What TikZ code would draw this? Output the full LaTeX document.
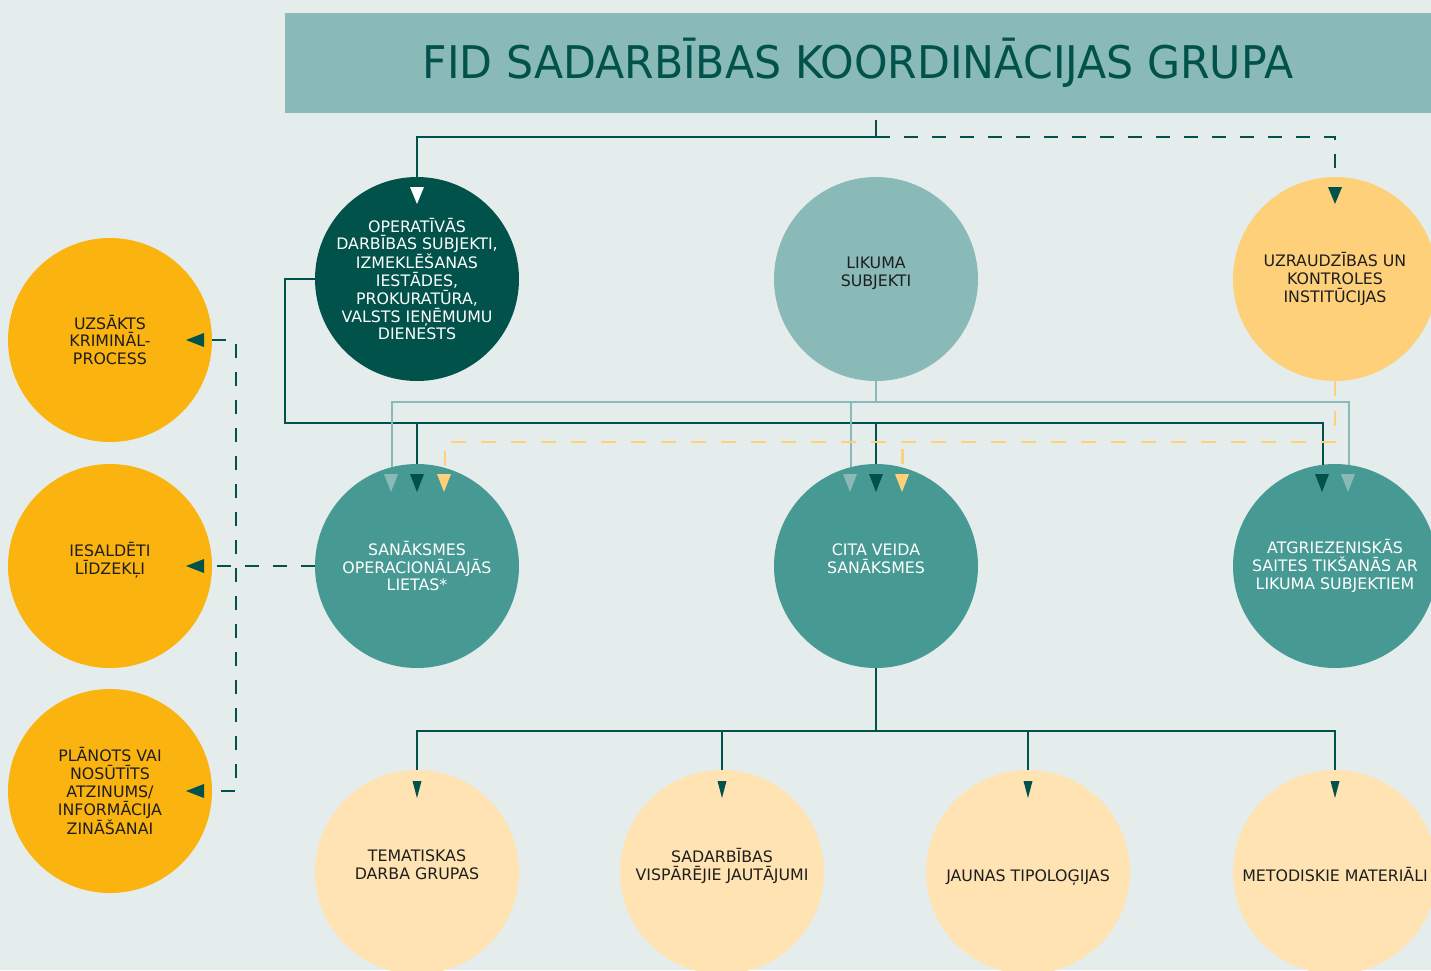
\documentclass[tikz,border=0pt]{standalone}
\usepackage{fontspec}
\setmainfont{DejaVu Sans}
\definecolor{fons}{HTML}{E4EDEC}
\definecolor{tumsa}{HTML}{00524A}
\definecolor{vidus}{HTML}{479A94}
\definecolor{gaisa}{HTML}{8ABAB7}
\definecolor{oranzs}{HTML}{FBB40F}
\definecolor{dzelt}{HTML}{FED07A}
\definecolor{bals}{HTML}{FFE3B3}
\definecolor{teksts}{HTML}{1E1E1E}

\begin{document}
\begin{tikzpicture}[x=1pt,y=-1pt,
	aplis/.style={circle,minimum size=204pt,inner sep=0pt,align=center,font=\fontsize{15.8}{17.8}\selectfont},
	divrind/.style={text depth=15pt},
	vienrind/.style={text height=19.5pt,text depth=0pt},
	liin/.style={line width=2pt},
	svitr/.style={line width=2pt,dash pattern=on 14pt off 14pt},
	dzsvitr/.style={line width=2.5pt,dzelt,dash pattern=on 15pt off 15pt}]

		%fons
		\clip (0,0) rectangle (1431,970);
		\fill[fons] (0,0) rectangle (1431,970);

		%virsraksts
		\node[fill=gaisa,minimum width=1146pt,minimum height=100pt,inner sep=0pt,text=tumsa,font=\fontsize{45}{50}\selectfont] (galva) at (858,63) {\scalebox{0.948}[1]{FID SADARBĪBAS KOORDINĀCIJAS GRUPA}};

		%augsejie apli
		\node[aplis,fill=tumsa,text=white] (oper) at (417,279) {OPERATĪVĀS\\DARBĪBAS SUBJEKTI,\\IZMEKLĒŠANAS\\IESTĀDES,\\PROKURATŪRA,\\VALSTS IEŅĒMUMU\\DIENESTS};
		\node[aplis,divrind,fill=gaisa,text=teksts] (likums) at (876,279) {LIKUMA\\SUBJEKTI};
		\node[aplis,fill=dzelt,text=teksts] (uzr) at (1335,279) {UZRAUDZĪBAS UN\\KONTROLES\\INSTITŪCIJAS};

		%kreisie apli
		\node[aplis,fill=oranzs,text=teksts] (krim) at (110,340) {UZSĀKTS\\KRIMINĀL-\\PROCESS};
		\node[aplis,divrind,fill=oranzs,text=teksts] (iesald) at (110,566) {IESALDĒTI\\LĪDZEKĻI};
		\node[aplis,fill=oranzs,text=teksts] (zin) at (110,791) {PLĀNOTS VAI\\NOSŪTĪTS\\ATZINUMS/\\INFORMĀCIJA\\ZINĀŠANAI};

		%sanaksmes
		\node[aplis,fill=vidus,text=white] (sanop) at (417,566) {SANĀKSMES\\OPERACIONĀLAJĀS\\LIETAS*};
		\node[aplis,divrind,fill=vidus,text=white] (cita) at (876,566) {CITA VEIDA\\SANĀKSMES};
		\node[aplis,fill=vidus,text=white] (atgr) at (1335,566) {ATGRIEZENISKĀS\\SAITES TIKŠANĀS AR\\LIKUMA SUBJEKTIEM};

		%apaksejie apli
		\node[aplis,divrind,fill=bals,text=teksts] (tem) at (417,872) {TEMATISKAS\\DARBA GRUPAS};
		\node[aplis,divrind,fill=bals,text=teksts] (visp) at (722,872) {SADARBĪBAS\\VISPĀRĒJIE JAUTĀJUMI};
		\node[aplis,vienrind,fill=bals,text=teksts] (tipol) at (1028,872) {JAUNAS TIPOLOĢIJAS};
		\node[aplis,vienrind,fill=bals,text=teksts] (metod) at (1335,872) {METODISKIE MATERIĀLI};

		%zarosanas punkti
		\coordinate (tsplit) at (876,137);
		\coordinate (dkrow) at (285,423);
		\coordinate (gsplit) at (876,402);
		\coordinate (ysplit) at (1335,442);
		\coordinate (lsplit) at (236,566);
		\coordinate (bsplit) at (876,731);

		%no virsraksta
		\draw[liin,tumsa,shorten <=7pt] (galva.south -| tsplit) -- (tsplit) -| (oper.north);
		\draw[svitr,tumsa] (tsplit) -| (uzr.north);

		%tumsa linija
		\draw[liin,tumsa] (oper.west) -| (dkrow) -| (atgr.97.3);
		\draw[liin,tumsa] (sanop.north |- dkrow) -- (sanop.north);
		\draw[liin,tumsa] (cita.north |- dkrow) -- (cita.north);

		%likuma subjekti
		\draw[liin,gaisa] (likums.south) -- (gsplit);
		\draw[liin,gaisa] (sanop.104.8) |- (gsplit) -| (atgr.82.7);
		\draw[liin,gaisa] (cita.104.8 |- gsplit) -- (cita.104.8);

		%uzraudzibas iestades
		\draw[dzsvitr] (uzr.south) -- (ysplit) -| (sanop.74.7);
		\draw[dzsvitr,dash phase=23pt] (cita.75.2 |- ysplit) -- (cita.75.2);

		%uz kreiso pusi
		\draw[svitr,tumsa] (sanop.west) -- (iesald.east);
		\draw[svitr,tumsa] (krim.east) -| (lsplit) |- (zin.east);

		%uz apaksu
		\draw[line width=1.6pt,tumsa] (cita.south) -- (bsplit);
		\foreach \n in {tem,visp,tipol,metod}
		{\draw[line width=1.6pt,tumsa] (bsplit) -| (\n.north);
		}

		%trijsturi
		\fill[white] (410,187) -- (424,187) -- (417,204) -- cycle;
		\fill[tumsa] (1328,187) -- (1342,187) -- (1335,204) -- cycle;
		\foreach \x/\c in {391/gaisa,417/tumsa,444/dzelt,850/gaisa,876/tumsa,902/dzelt,1322/tumsa,1348/gaisa}
		{\fill[\c] (\x-7,474) -- (\x+7,474) -- (\x,492) -- cycle;
		}
		\foreach \y in {340,566,791}
		{\fill[tumsa] (204,\y-7) -- (204,\y+7) -- (186,\y) -- cycle;
		}
		\foreach \x in {417,722,1028,1335}
		{\fill[tumsa] (\x-4.5,781) -- (\x+4.5,781) -- (\x,798) -- cycle;
		}

	\end{tikzpicture}
\end{document}
